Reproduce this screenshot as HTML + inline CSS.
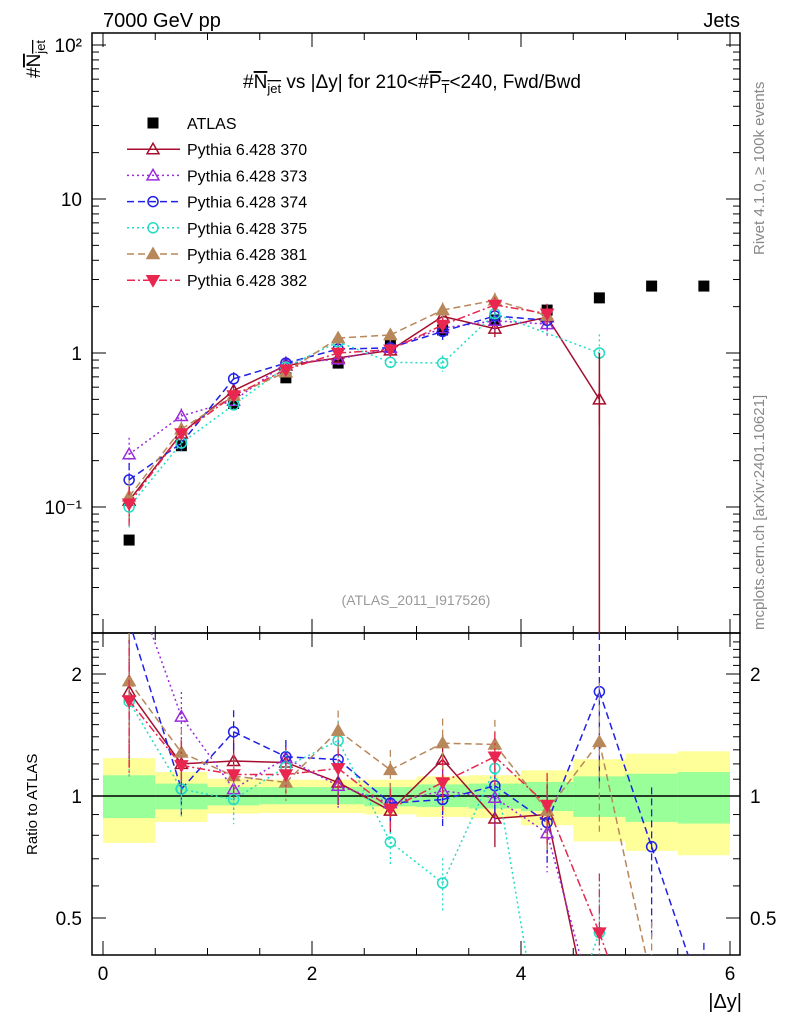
<!DOCTYPE html>
<html><head><meta charset="utf-8"><style>
html,body{margin:0;padding:0;background:#fff;overflow:hidden;width:786px;height:1024px;}
svg{display:block;}
svg text{font-family:"Liberation Sans",sans-serif;}
</style></head><body>
<svg id="c" width="786" height="1024" xmlns="http://www.w3.org/2000/svg">
<g id="bands"></g>
<g id="axes"></g>
<g id="series"></g>
<text x="103" y="27" font-size="20">7000 GeV pp</text>
<text x="740" y="27" font-size="20" text-anchor="end">Jets</text>
<text x="412" y="88" font-size="19" text-anchor="middle">#<tspan text-decoration="overline">N<tspan font-size="13" dy="5">jet</tspan></tspan><tspan dy="-5"> vs |Δy| for 210&lt;#</tspan><tspan text-decoration="overline">P<tspan font-size="13" dy="5">T</tspan></tspan><tspan dy="-5">&lt;240, Fwd/Bwd</tspan></text>
<text transform="translate(40,78) rotate(-90)" font-size="19">#<tspan text-decoration="overline">N<tspan font-size="13" dy="5">jet</tspan></tspan></text>
<text transform="translate(764,255) rotate(-90)" font-size="15" fill="#888">Rivet 4.1.0, ≥ 100k events</text>
<text transform="translate(764,630) rotate(-90)" font-size="15" fill="#888">mcplots.cern.ch [arXiv:2401.10621]</text>
<text x="416" y="605" font-size="14" fill="#999" text-anchor="middle">(ATLAS_2011_I917526)</text>
<text transform="translate(37,855) rotate(-90)" font-size="15">Ratio to ATLAS</text>
<text x="742" y="1008" font-size="20" text-anchor="end">|Δy|</text>
<g id="legend"></g>
</svg>
<script>
const xCenters=[0.25,0.75,1.25,1.75,2.25,2.75,3.25,3.75,4.25,4.75,5.25,5.75];
const atlas=[0.061,0.25,0.47,0.69,0.86,1.13,1.41,1.64,1.9,2.28,2.72,2.72];
const main370=[0.11,0.30,0.57,0.83,0.93,1.04,1.73,1.44,1.71,0.5,null,null];
const main373=[0.22,0.39,0.49,0.86,0.91,1.08,1.45,1.62,1.54,null,null,null];
const main374=[0.15,0.26,0.68,0.86,1.06,1.08,1.38,1.74,1.63,null,null,null];
const main375=[0.10,0.26,0.46,0.81,1.18,0.87,0.86,1.8,null,1.0,null,null];
const main381=[0.117,0.32,0.53,0.75,1.25,1.31,1.9,2.2,1.75,null,null,null];
const main382=[0.105,0.30,0.53,0.78,1.0,1.05,1.52,2.05,1.8,null,null,null];
const ratio370=[1.81,1.2,1.22,1.21,1.08,0.92,1.23,0.88,0.9,0.22,null,null];
const ratio373=[3.6,1.57,1.04,1.24,1.06,0.96,1.03,0.99,0.81,0.27,null,null];
const ratio374=[2.7,1.04,1.44,1.25,1.23,0.96,0.98,1.06,0.86,1.81,0.75,0.31];
const ratio375=[1.71,1.04,0.98,1.18,1.37,0.77,0.61,1.17,0.2,0.46,null,null];
const ratio381=[1.92,1.28,1.12,1.08,1.45,1.16,1.35,1.34,0.92,1.36,0.35,null];
const ratio382=[1.72,1.19,1.13,1.13,1.17,0.93,1.08,1.25,0.95,0.46,0.2,null];
const relErr=[0.35,0.15,0.13,0.1,0.12,0.12,0.15,0.15,0.2,0.4,0.4,0.4];
const bandYellowHi=[1.24,1.146,1.103,1.097,1.097,1.097,1.118,1.125,1.157,1.232,1.272,1.289];
const bandYellowLo=[0.766,0.863,0.905,0.908,0.908,0.901,0.888,0.882,0.847,0.773,0.732,0.714];
const bandGreenHi=[1.125,1.073,1.052,1.052,1.052,1.052,1.068,1.073,1.083,1.118,1.135,1.146];
const bandGreenLo=[0.882,0.927,0.948,0.954,0.954,0.943,0.939,0.931,0.918,0.888,0.863,0.855];
const xTicks=[0,2,4,6];
const mainTicks=[0.1,1,10,100];
const mainTickLabels=["10⁻¹","1","10","10²"];
const ratioTicks=[0.5,1,2];
const ratioTickLabels=["0.5","1","2"];
const legendLabels=["ATLAS","Pythia 6.428 370","Pythia 6.428 373","Pythia 6.428 374","Pythia 6.428 375","Pythia 6.428 381","Pythia 6.428 382"];

const NS="http://www.w3.org/2000/svg";
const L=92,R=740,MT=33,MB=633,RT=633,RB=955;
const X=v=>103+v*104.5;
const YM=v=>353-Math.log10(v)*154;
const YR=v=>796-Math.log2(v)*122;
function mk(tag,attrs,parent){const e=document.createElementNS(NS,tag);for(const k in attrs)e.setAttribute(k,attrs[k]);parent.appendChild(e);return e;}
const axes=document.getElementById('axes'),bands=document.getElementById('bands'),ser=document.getElementById('series'),leg=document.getElementById('legend');

for(let i=0;i<xCenters.length;i++){
  const x0=X(xCenters[i]-0.25),x1=X(xCenters[i]+0.25);
  const y=mk('rect',{x:x0,y:YR(bandYellowHi[i]),width:x1-x0,height:YR(bandYellowLo[i])-YR(bandYellowHi[i]),fill:'#ffff99'},bands);
  
  
  const g=mk('rect',{x:x0,y:YR(bandGreenHi[i]),width:x1-x0,height:YR(bandGreenLo[i])-YR(bandGreenHi[i]),fill:'#99ff99'},bands);
  
  
}
mk('rect',{x:L,y:MT,width:R-L,height:MB-MT,fill:'none',stroke:'#000','stroke-width':1.5},axes);
mk('rect',{x:L,y:RT,width:R-L,height:RB-RT,fill:'none',stroke:'#000','stroke-width':1.5},axes);
mk('line',{x1:L,x2:R,y1:YR(1),y2:YR(1),stroke:'#000','stroke-width':1.5},axes);
for(let v=0;v<=6.01;v+=0.5){
  const big=Math.abs(v-Math.round(v/2)*2)<1e-6, len=big?14:7;
  [MT,RT].forEach(t=>mk('line',{x1:X(v),x2:X(v),y1:t,y2:t+len,stroke:'#000'},axes));
  [MB,RB].forEach(b=>mk('line',{x1:X(v),x2:X(v),y1:b,y2:b-len,stroke:'#000'},axes));
}
xTicks.forEach(v=>{const t=mk('text',{x:X(v),y:980,'font-size':19,'text-anchor':'middle'},axes);t.textContent=v;

});
for(let d=-2;d<=2;d++)for(let m=1;m<10;m++){
  const v=m*Math.pow(10,d),y=YM(v);if(y<MT||y>MB)continue;
  const len=m==1?14:7;
  mk('line',{x1:L,x2:L+len,y1:y,y2:y,stroke:'#000'},axes);
  mk('line',{x1:R,x2:R-len,y1:y,y2:y,stroke:'#000'},axes);
}
mainTicks.forEach((v,i)=>{const t=mk('text',{x:82,y:YM(v)+7,'font-size':19,'text-anchor':'end'},axes);t.textContent=mainTickLabels[i];

});
for(let v=0.4;v<=2.5;v+=0.1){const y=YR(v);if(y<RT||y>RB)continue;
  const big=[0.5,1,2].some(b=>Math.abs(b-v)<1e-6),len=big?14:7;
  mk('line',{x1:L,x2:L+len,y1:y,y2:y,stroke:'#000'},axes);mk('line',{x1:R,x2:R-len,y1:y,y2:y,stroke:'#000'},axes);}
ratioTicks.forEach((v,i)=>{[82,750].forEach((xx,j)=>{const t=mk('text',{x:xx,y:YR(v)+7,'font-size':19,'text-anchor':j?'start':'end'},axes);t.textContent=ratioTickLabels[i];

});});

const styles=[
 {main:main370,ratio:ratio370,c:'#a50f2d',dash:'',mk:'tri',fill:false},
 {main:main373,ratio:ratio373,c:'#9a2bdb',dash:'2,3',mk:'tri',fill:false},
 {main:main374,ratio:ratio374,c:'#2020e8',dash:'7,4',mk:'circ',fill:false},
 {main:main375,ratio:ratio375,c:'#22ddc4',dash:'2,3',mk:'circ',fill:false},
 {main:main381,ratio:ratio381,c:'#b8875a',dash:'7,4',mk:'tri',fill:true},
 {main:main382,ratio:ratio382,c:'#e8264f',dash:'8,3,2,3',mk:'dtri',fill:true}];
function marker(type,x,y,c,fill,parent){
  if(type=='tri')return mk('polygon',{points:`${x},${y-6} ${x-6},${y+4.5} ${x+6},${y+4.5}`,fill:fill?c:'none',stroke:c,'stroke-width':1.5},parent);
  if(type=='dtri')return mk('polygon',{points:`${x},${y+6} ${x-6},${y-4.5} ${x+6},${y-4.5}`,fill:c,stroke:c,'stroke-width':1.5},parent);
  if(type=='circ')return mk('circle',{cx:x,cy:y,r:5,fill:'none',stroke:c,'stroke-width':1.5},parent);
  return mk('rect',{x:x-5.5,y:y-5.5,width:11,height:11,fill:'#000'},parent);
}
function clipSeg(x1,y1,x2,y2,t,b){
  let u0=0,u1=1;const dy=y2-y1;
  if(Math.abs(dy)<1e-9){if(y1<t||y1>b)return null;return [x1,y1,x2,y2];}
  let ua=(t-y1)/dy,ub=(b-y1)/dy;if(ua>ub){const q=ua;ua=ub;ub=q;}
  u0=Math.max(u0,ua);u1=Math.min(u1,ub);if(u0>u1)return null;
  return [x1+(x2-x1)*u0,y1+dy*u0,x1+(x2-x1)*u1,y1+dy*u1];
}
const cl=(y,t,b)=>Math.max(t,Math.min(b,y));
const ag=mk('g',{},ser);


atlas.forEach((v,i)=>{const m=marker('sq',X(xCenters[i]),YM(v),'#000',true,ag);

});
styles.forEach((s,si)=>{
  const g=mk('g',{},ser);
  
  
  [[s.main,YM,MT,MB],[s.ratio,YR,RT,RB]].forEach(([arr,Y,t,b])=>{
    let pts=[];arr.forEach((v,i)=>{if(v!=null)pts.push([X(xCenters[i]),Y(v)]);});
    for(let k=0;k+1<pts.length;k++){
      const c=clipSeg(pts[k][0],pts[k][1],pts[k+1][0],pts[k+1][1],t,b);
      if(c)mk('line',{x1:c[0],y1:c[1],x2:c[2],y2:c[3],stroke:s.c,'stroke-width':1.5,'stroke-dasharray':s.dash},g);
    }
    arr.forEach((v,i)=>{if(v==null)return;const x=X(xCenters[i]);
      const e=relErr[i]*(Y===YR?1:0.8);
      const ya=cl(Y(v*(1+e)),t,b),yb=cl(Y(Math.max(v*(1-e),1e-4)),t,b);
      if(yb-ya>0.5)mk('line',{x1:x,x2:x,y1:ya,y2:yb,stroke:s.c,'stroke-width':1.3,'stroke-dasharray':s.dash},g);
      const yy=Y(v);if(yy<t||yy>b)return;
      const m=marker(s.mk,x,yy,s.c,s.fill,g);
      
      });
  });
});
mk('line',{x1:X(4.75),x2:X(4.75),y1:YM(1.0),y2:MB,stroke:'#a50f2d','stroke-width':1.5},ser);
legendLabels.forEach((lab,i)=>{
  const y=123+i*26.2;
  const g=mk('g',{},leg);
  
  
  if(i==0)marker('sq',153,y,'#000',true,g);
  else{const s=styles[i-1];mk('line',{x1:127,x2:180,y1:y,y2:y,stroke:s.c,'stroke-width':1.5,'stroke-dasharray':s.dash},g);marker(s.mk,153,y,s.c,s.fill,g);}
  const t=mk('text',{x:187,y:y+6,'font-size':16},g);t.textContent=lab;
});
</script>
</body></html>
